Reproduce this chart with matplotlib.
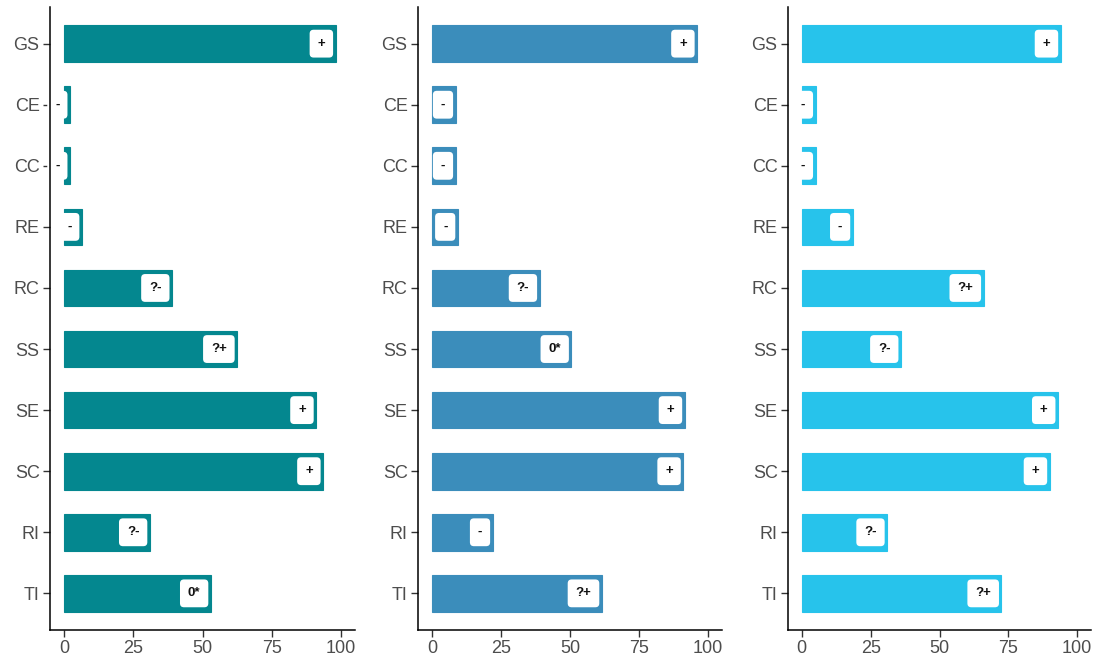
import matplotlib.pyplot as plt

plt.rcParams['font.family'] = ['Liberation Sans', 'DejaVu Sans']

categorias = ['GS', 'CE', 'CC', 'RE', 'RC', 'SS', 'SE', 'SC', 'RI', 'TI']

valores_1 = [98, 2.2, 2.2, 6.5, 39, 62.5, 91, 93.5, 31, 53]
etiquetas_1 = ['+', '-', '-', '-', '?-', '?+', '+', '+', '?-', '0*']

valores_2 = [96, 8.6, 8.6, 9.4, 39, 50.5, 91.5, 91, 22, 61.5]
etiquetas_2 = ['+', '-', '-', '-', '?-', '0*', '+', '+', '-', '?+']

valores_3 = [94, 5, 5, 18.5, 66, 36, 93, 90, 31, 72.5]
etiquetas_3 = ['+', '-', '-', '-', '?+', '?-', '+', '+', '?-', '?+']

colores = ['#04878F', '#3B8DBB', '#27C3EB']
ticks_x = [0, 25, 50, 75, 100]

paneles = [(valores_1, etiquetas_1), (valores_2, etiquetas_2), (valores_3, etiquetas_3)]
bordes = [(50, 355), (418, 722), (788, 1091)]

W, H = 1093, 664
fig = plt.figure(figsize=(W / 100, H / 100), dpi=100)

pos_y = list(range(len(categorias)))[::-1]

for (valores, etiquetas), color, (x0, x1) in zip(paneles, colores, bordes):
    ax = fig.add_axes([x0 / W, 1 - 630 / H, (x1 - x0) / W, 623 / H])
    ax.barh(pos_y, valores, height=0.6, color=color, edgecolor=color, linewidth=0.8)
    for y, v, txt in zip(pos_y, valores, etiquetas):
        # etiqueta blanca pegada al final de cada barra, por debajo de los ejes
        ax.annotate(txt, xy=(v, y), xytext=(-7.5, 0), textcoords='offset points',
                    ha='right', va='center', fontsize=9.5, fontweight='bold',
                    color='#111111', zorder=2,
                    bbox=dict(boxstyle='round,pad=0.6,rounding_size=0.3',
                              facecolor='white', edgecolor='none'))
    ax.set_xlim(-5, 105)
    ax.set_ylim(-0.6, len(categorias) - 0.4)
    ax.set_yticks(pos_y)
    ax.set_yticklabels(categorias)
    ax.set_xticks(ticks_x)
    ax.spines['top'].set_visible(False)
    ax.spines['right'].set_visible(False)
    ax.spines['left'].set_linewidth(1.1)
    ax.spines['bottom'].set_linewidth(1.1)
    ax.spines['left'].set_zorder(3)
    ax.spines['bottom'].set_zorder(3)
    ax.tick_params(axis='both', length=5, width=1, color='#333333',
                   labelcolor='#4D4D4D', labelsize=13, pad=2.5)

fig.savefig('out.png', dpi=100)
